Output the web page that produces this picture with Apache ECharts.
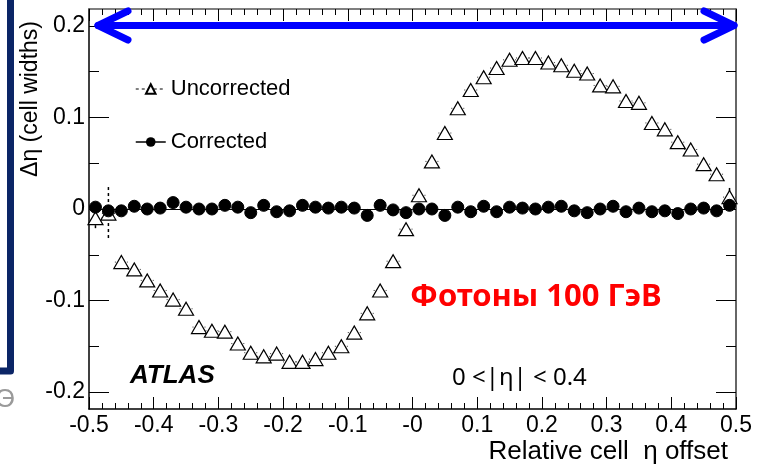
<!DOCTYPE html>
<html>
<head>
<meta charset="utf-8">
<script src="https://cdn.jsdelivr.net/npm/echarts@6/dist/echarts.min.js"></script>
<style>
html, body { margin: 0; padding: 0; background: #fff; }
#main { width: 767px; height: 465px; }
</style>
</head>
<body>
<div id="main"></div>
<script>
// bin centres in relative cell eta offset
const etaBins = [-0.49, -0.47, -0.45, -0.43, -0.41, -0.39, -0.37, -0.35, -0.33, -0.31,
                 -0.29, -0.27, -0.25, -0.23, -0.21, -0.19, -0.17, -0.15, -0.13, -0.11,
                 -0.09, -0.07, -0.05, -0.03, -0.01, 0.01, 0.03, 0.05, 0.07, 0.09,
                 0.11, 0.13, 0.15, 0.17, 0.19, 0.21, 0.23, 0.25, 0.27, 0.29,
                 0.31, 0.33, 0.35, 0.37, 0.39, 0.41, 0.43, 0.45, 0.47, 0.49];
const uncorrected = [-0.010, -0.005, -0.058, -0.066, -0.078, -0.089, -0.099, -0.109, -0.129, -0.133,
                     -0.134, -0.147, -0.157, -0.161, -0.158, -0.167, -0.167, -0.164, -0.157, -0.150,
                     -0.135, -0.114, -0.089, -0.057, -0.022, 0.015, 0.052, 0.083, 0.110, 0.130,
                     0.144, 0.154, 0.163, 0.165, 0.165, 0.160, 0.157, 0.151, 0.148, 0.135,
                     0.134, 0.118, 0.116, 0.094, 0.087, 0.073, 0.065, 0.049, 0.038, 0.013];
// vertical errors (only visible ones)
const uncorrectedErr = [0.012, 0.029, 0, 0, 0, 0, 0, 0, 0, 0,
                        0, 0, 0, 0, 0, 0, 0, 0, 0, 0,
                        0, 0, 0, 0, 0, 0, 0, 0, 0, 0,
                        0, 0, 0, 0, 0, 0, 0, 0, 0, 0,
                        0, 0, 0, 0, 0, 0, 0, 0, 0, 0.010];
const corrected = [0.002, -0.002, -0.002, 0.003, 0.000, 0.001, 0.007, 0.002, 0.000, 0.000,
                   0.004, 0.002, -0.004, 0.004, -0.003, -0.002, 0.004, 0.002, 0.001, 0.002,
                   0.001, -0.007, 0.004, -0.001, -0.004, 0.000, 0.000, -0.007, 0.002, -0.003,
                   0.003, -0.003, 0.002, 0.001, 0.000, 0.002, 0.003, -0.002, -0.004, 0.000,
                   0.003, -0.003, 0.001, -0.003, -0.002, -0.005, 0.000, 0.001, -0.002, 0.004];
const binHalfWidth = 0.01;
const yMajor = [-0.2, -0.1, 0, 0.1, 0.2];
const yMinor = [-0.15, -0.05, 0.05, 0.15];

const font = 'Liberation Sans, Arial, sans-serif';

let uncData = [];
let corData = [];
let errData = [];
for (let i = 0; i < etaBins.length; i++) {
    uncData.push([etaBins[i], uncorrected[i]]);
    corData.push([etaBins[i], corrected[i]]);
    errData.push([etaBins[i], uncorrected[i], uncorrectedErr[i]]);
}

function fmt(v) {
    let r = Math.round(v * 10) / 10;
    if (r === 0) return '-0';
    return r.toFixed(1);
}

function renderErr(params, api) {
    let x = api.value(0), y = api.value(1), e = api.value(2);
    let l = api.coord([x - binHalfWidth, y]);
    let r = api.coord([x + binHalfWidth, y]);
    let kids = [{
        type: 'line',
        shape: {x1: l[0], y1: l[1], x2: r[0], y2: r[1]},
        style: {stroke: '#333', lineWidth: 1, lineDash: [1, 2]}
    }];
    if (e > 0) {
        let t = api.coord([x, y + e]);
        let b = api.coord([x, y - e]);
        kids.push({
            type: 'line',
            shape: {x1: t[0], y1: t[1], x2: b[0], y2: b[1]},
            style: {stroke: '#000', lineWidth: 1.5, lineDash: [3, 3]}
        });
    }
    return {type: 'group', children: kids};
}

const yBase = {
    type: 'value', min: -0.2185, max: 0.2185,
    splitLine: {show: false}
};

let myChart = echarts.init(document.getElementById('main'));
let option = {
    animation: false,
    backgroundColor: '#fff',
    grid: {left: 89, right: 31, top: 9, bottom: 56},
    legend: {
        orient: 'vertical', left: 135, top: 78, padding: 0,
        itemWidth: 30, itemHeight: 12, itemGap: 31,
        textStyle: {fontFamily: font, fontSize: 22, color: '#000', lineHeight: 20},
        data: [
            {name: 'Uncorrected', lineStyle: {opacity: 1, color: '#000', width: 1, type: [3, 3]}},
            {name: 'Corrected', lineStyle: {opacity: 1, color: '#000', width: 1.5, type: 'solid'}}
        ]
    },
    xAxis: [{
        type: 'value', min: -0.5, max: 0.5, interval: 0.1,
        axisLine: {onZero: false, lineStyle: {color: '#000', width: 1.5}},
        axisTick: {inside: true, length: 12, lineStyle: {color: '#000'}},
        minorTick: {show: true, splitNumber: 5, length: 6, lineStyle: {color: '#000'}},
        splitLine: {show: false},
        axisLabel: {formatter: fmt, fontFamily: font, fontSize: 23, color: '#000', margin: 5}
    }, {
        type: 'value', position: 'top', min: -0.5, max: 0.5, interval: 0.1,
        axisLine: {onZero: false, lineStyle: {color: '#555', width: 1.5}},
        axisTick: {inside: true, length: 12, lineStyle: {color: '#000'}},
        minorTick: {show: true, splitNumber: 5, length: 6, lineStyle: {color: '#000'}},
        splitLine: {show: false},
        axisLabel: {show: false}
    }],
    yAxis: [
        Object.assign({}, yBase, {
            position: 'left',
            axisLine: {show: true, onZero: false, lineStyle: {color: '#000', width: 1.5}},
            axisTick: {inside: true, length: 20, customValues: yMajor, lineStyle: {color: '#000'}},
            axisLabel: {customValues: yMajor, formatter: v => (Math.abs(v) < 1e-9 ? '0' : (Math.round(v * 10) / 10).toFixed(1)),
                        fontFamily: font, fontSize: 23, color: '#000', margin: 4}
        }),
        Object.assign({}, yBase, {
            position: 'left',
            axisLine: {show: false, onZero: false},
            axisTick: {inside: true, length: 10, customValues: yMinor, lineStyle: {color: '#000'}},
            axisLabel: {show: false}
        }),
        Object.assign({}, yBase, {
            position: 'right',
            axisLine: {show: true, onZero: false, lineStyle: {color: '#333', width: 1.5}},
            axisTick: {inside: true, length: 20, customValues: yMajor, lineStyle: {color: '#000'}},
            axisLabel: {show: false}
        }),
        Object.assign({}, yBase, {
            position: 'right',
            axisLine: {show: false, onZero: false},
            axisTick: {inside: true, length: 10, customValues: yMinor, lineStyle: {color: '#000'}},
            axisLabel: {show: false}
        })
    ],
    series: [{
        type: 'custom',
        name: 'errors',
        renderItem: renderErr,
        data: errData,
        z: 1,
        silent: true
    }, {
        name: 'Uncorrected',
        type: 'line',
        data: uncData,
        symbol: 'triangle',
        symbolSize: [15, 13],
        itemStyle: {color: '#fff', borderColor: '#000', borderWidth: 1.2},
        lineStyle: {opacity: 0},
        z: 3
    }, {
        name: 'Corrected',
        type: 'line',
        data: corData,
        symbol: 'circle',
        symbolSize: 12,
        itemStyle: {color: '#000', borderColor: '#000'},
        lineStyle: {opacity: 0},
        z: 4,
        markLine: {
            silent: true,
            symbol: ['none', 'none'],
            label: {show: false},
            lineStyle: {color: '#000', width: 1, type: 'solid'},
            data: [{yAxis: 0}]
        }
    }],
    graphic: [
        // navy slide frame on the left
        {type: 'polyline', shape: {points: [[10.5, -5], [10.5, 371], [-5, 371]]},
         style: {fill: 'none', stroke: '#0b2566', lineWidth: 7, lineJoin: 'round'}},
        {type: 'text', x: -4, y: 400, style: {text: 'Э', fontFamily: font, fontSize: 26, fill: '#9a9a9a', verticalAlign: 'middle'}},
        // blue double arrow
        {type: 'polyline', shape: {points: [[98, 25.5], [734, 25.5]]},
         style: {stroke: '#0000ff', lineWidth: 7, lineCap: 'round'}, z: 10},
        {type: 'polyline', shape: {points: [[128, 11], [98, 25.5], [128, 40]]},
         style: {stroke: '#0000ff', fill: 'none', lineWidth: 7, lineCap: 'round', lineJoin: 'round'}, z: 10},
        {type: 'polyline', shape: {points: [[704, 11], [734, 25.5], [704, 40]]},
         style: {stroke: '#0000ff', fill: 'none', lineWidth: 7, lineCap: 'round', lineJoin: 'round'}, z: 10},
        // axis titles
        {type: 'text', x: 31, y: 99, rotation: Math.PI / 2,
         style: {text: 'Δη (cell widths)', fontFamily: font, fontSize: 23, fill: '#000', align: 'center', verticalAlign: 'middle'}},
        {type: 'text', x: 728, y: 452,
         style: {text: 'Relative cell  η offset', fontFamily: font, fontSize: 26, fill: '#000', align: 'right', verticalAlign: 'middle'}},
        // labels in the plot
        {type: 'text', x: 130, y: 376,
         style: {text: 'ATLAS', fontFamily: font, fontSize: 26, fontWeight: 'bold', fontStyle: 'italic', fill: '#000', verticalAlign: 'middle'}},
        {type: 'text', x: 452, y: 378,
         style: {text: '0 <|η| < 0.4', fontFamily: 'Noto Sans, sans-serif', fontSize: 24, fill: '#000', verticalAlign: 'middle'}},
        {type: 'text', x: 410, y: 297,
         style: {text: 'Фотоны 100 ГэВ', fontFamily: 'Noto Sans, sans-serif', fontSize: 31, fontWeight: 'bold', fill: '#ff0000', verticalAlign: 'middle'}}
    ]
};
myChart.setOption(option);
</script>
</body>
</html>
